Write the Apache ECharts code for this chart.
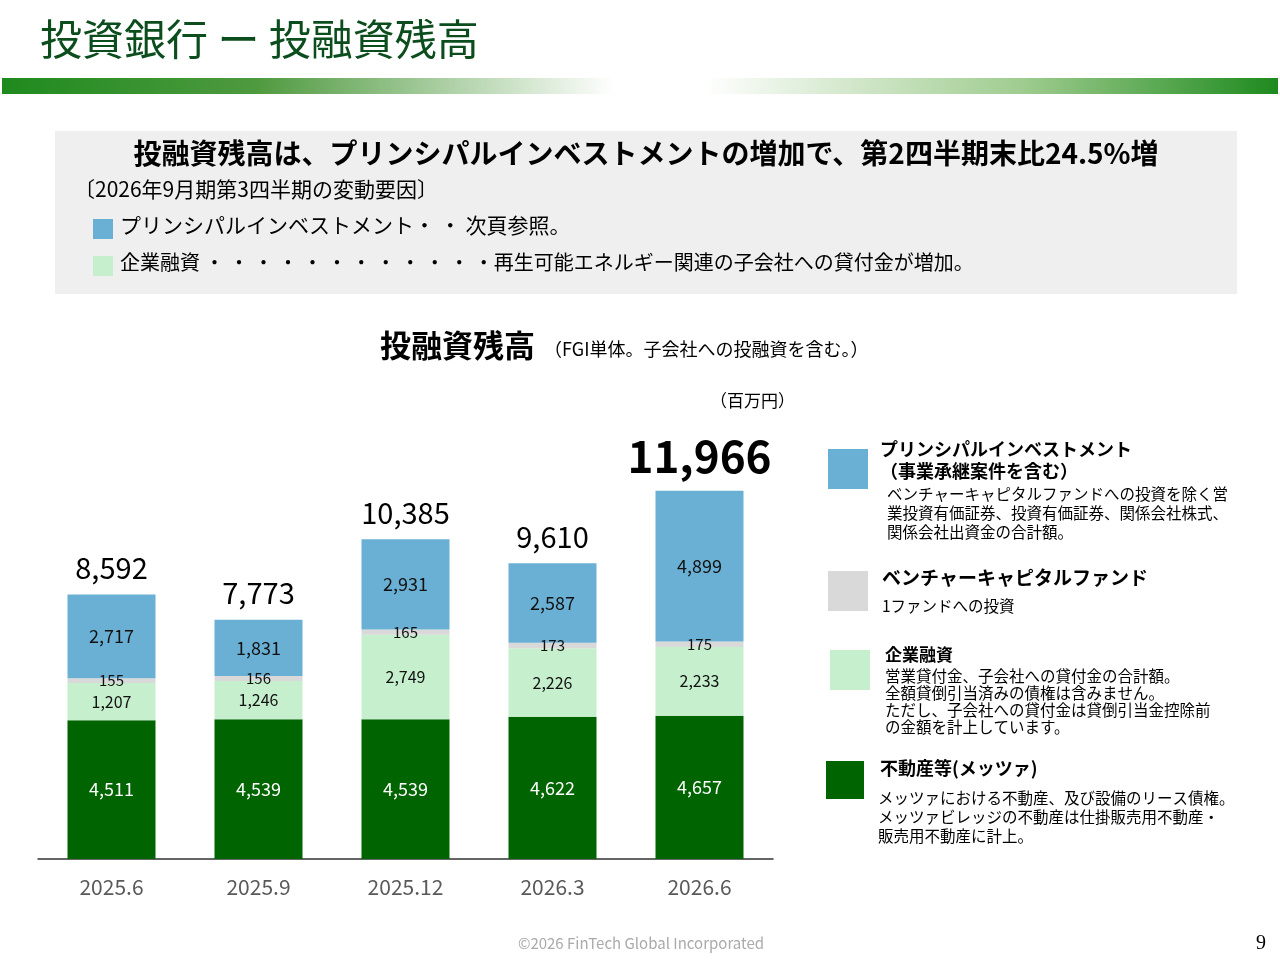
<!DOCTYPE html>
<html><head><meta charset="utf-8">
<script src="https://cdn.jsdelivr.net/npm/echarts@6/dist/echarts.min.js"></script>
<style>body{margin:0}#c{width:1280px;height:960px}</style></head>
<body><div id="c"></div>
<script>
const categories = ['2025.6','2025.9','2025.12','2026.3','2026.6'];
const realEstate = [4511,4539,4539,4622,4657];
const corporateLoans = [1207,1246,2749,2226,2233];
const ventureFund = [155,156,165,173,175];
const principal = [2717,1831,2931,2587,4899];
const totals = [8592,7773,10385,9610,11966];

const F = '"Noto Sans CJK JP","Noto Sans",sans-serif';
const chart = echarts.init(document.getElementById('c'));
const G = [];
function txt(x,y,t,o){G.push(Object.assign({type:'text',x:x,y:y,style:Object.assign({text:t,font:'16px '+F,fill:'#000'},o||{})}));}
function rect(x,y,w,h,fill){G.push({type:'rect',shape:{x:x,y:y,width:w,height:h},style:{fill:fill}});}

txt(40,18,'投資銀行 ー 投融資残高',{font:'42px '+F,fill:'#0b4d1c'});
G.push({type:'rect',shape:{x:2,y:78,width:1276,height:16},style:{fill:new echarts.graphic.LinearGradient(0,0,1,0,[{offset:0,color:'#1e8a1e'},{offset:0.2,color:'#4f9a3f'},{offset:0.48,color:'#ffffff'},{offset:0.55,color:'#ffffff'},{offset:0.8,color:'#9fcc8f'},{offset:1,color:'#1e8a1e'}])}});
rect(55,131,1182,163,'#efefef');
txt(646,139,'投融資残高は、プリンシパルインベストメントの増加で、第2四半期末比24.5%増',{font:'bold 28px '+F,align:'center'});
txt(74,179,'〔2026年9月期第3四半期の変動要因〕',{font:'21px '+F});
rect(93,219,20,20,'#6ab0d4');
txt(120,215,'プリンシパルインベストメント・ ・ 次頁参照。',{font:'21px '+F});
rect(93,256,20,20,'#c6efce');
txt(120,252,'企業融資 ・ ・ ・ ・ ・ ・ ・ ・ ・ ・ ・ ・再生可能エネルギー関連の子会社への貸付金が増加。',{font:'20px '+F});

txt(380,330,'投融資残高',{font:'bold 31px '+F});
txt(544,340,'（FGI単体。子会社への投融資を含む。）',{font:'18px '+F});
txt(710,392,'（百万円）',{font:'17px '+F});

// legend
rect(828,449,40,40,'#6ab0d4');
txt(880,440,'プリンシパルインベストメント',{font:'bold 18px '+F});
txt(880,462,'（事業承継案件を含む）',{font:'bold 18px '+F});
txt(887,485,'ベンチャーキャピタルファンドへの投資を除く営\n業投資有価証券、投資有価証券、関係会社株式、\n関係会社出資金の合計額。',{font:'15.5px '+F,lineHeight:19});
rect(828,571,40,40,'#d9d9d9');
txt(882,568,'ベンチャーキャピタルファンド',{font:'bold 19px '+F});
txt(882,598,'1ファンドへの投資',{font:'15.5px '+F});
rect(830,650,40,40,'#c6efce');
txt(885,646,'企業融資',{font:'bold 17px '+F});
txt(885,668,'営業貸付金、子会社への貸付金の合計額。\n全額貸倒引当済みの債権は含みません。\nただし、子会社への貸付金は貸倒引当金控除前\nの金額を計上しています。',{font:'15.5px '+F,lineHeight:17});
rect(826,761,38,38,'#006400');
txt(880,759,'不動産等(メッツァ)',{font:'bold 18px '+F});
txt(878,789,'メッツァにおける不動産、及び設備のリース債権。\nメッツァビレッジの不動産は仕掛販売用不動産・\n販売用不動産に計上。',{font:'15.5px '+F,lineHeight:19});

txt(641,936,'©2026 FinTech Global Incorporated',{font:'15px '+F,fill:'#aaaaaa',align:'center'});
txt(1266,934,'9',{font:'20px "Liberation Serif",serif',align:'right'});

const fmt = p => p.value.toLocaleString('en-US');
function bar(name,data,color,lc,fs){
  return {name:name,type:'bar',stack:'a',data:data,barWidth:88,itemStyle:{color:color},
    label:{show:true,position:'inside',formatter:fmt,color:lc,fontSize:fs,fontFamily:F}};
}
chart.setOption({
  animation:false,
  grid:{left:38,right:507,top:428,bottom:101},
  xAxis:{type:'category',data:categories,axisTick:{show:false},
    axisLine:{lineStyle:{color:'#333',width:1.5}},
    axisLabel:{color:'#595959',fontSize:21,fontFamily:F,margin:18}},
  yAxis:{type:'value',min:0,max:14000,show:false,splitLine:{show:false}},
  series:[
    bar('RE',realEstate,'#006400','#fff',18),
    bar('CL',corporateLoans,'#c6efce','#111',16),
    bar('VC',ventureFund,'#d9d9d9','#111',15),
    bar('PI',principal,'#6ab0d4','#111',18),
    {name:'total',type:'bar',stack:'a',barWidth:88,itemStyle:{color:'transparent'},
     label:{show:true,position:'top',distance:12,fontFamily:F,color:'#000',
       formatter:p=>totals[p.dataIndex].toLocaleString('en-US'),fontSize:29},
     data:totals.map((t,i)=>({value:0,label:i===4?{fontSize:44,fontWeight:'bold',distance:12}:{}}))}
  ],
  graphic:G
});
</script></body></html>
